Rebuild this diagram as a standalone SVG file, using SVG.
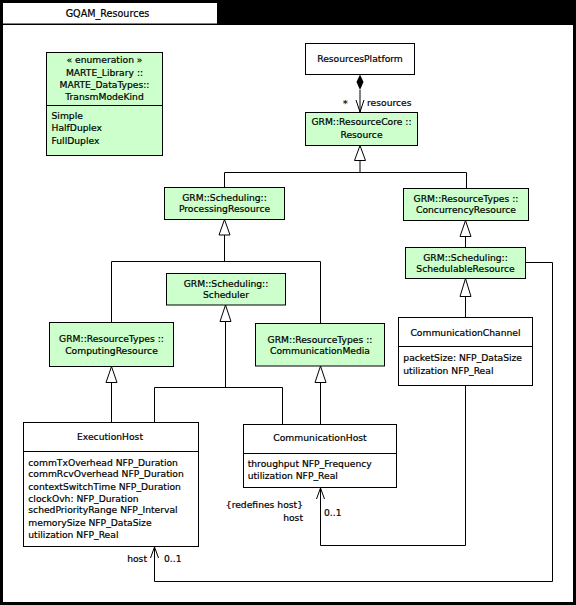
<svg xmlns="http://www.w3.org/2000/svg" width="576" height="605" viewBox="0 0 576 605">
<style>
text{font-family:"DejaVu Sans","Liberation Sans",sans-serif;font-size:9.2px;fill:#000;stroke:#000;stroke-width:0.2px}
.c{text-anchor:middle}
.e{text-anchor:end}
.g{fill:#ccffcc;stroke:#000;stroke-width:1}
.w{fill:#fff;stroke:#000;stroke-width:1}
.l{fill:none;stroke:#000;stroke-width:1}
.t{fill:#fff;stroke:#000;stroke-width:1}
</style>
<rect x="0" y="0" width="576" height="605" fill="#000"/>
<rect x="3" y="3" width="214" height="20.5" fill="#fff"/>
<rect x="3" y="25" width="570" height="577" fill="#fff"/>
<text class="c" x="107.5" y="16.5" style="font-size:9.6px">GQAM_Resources</text>

<g id="connectors">
<polygon points="360,74.5 363.5,82 360,90 356.5,82" fill="#000"/>
<line class="l" x1="360" y1="90" x2="360" y2="112.5"/>
<polyline class="l" points="356,100 360,112 364,100"/>
<text x="343" y="107">*</text>
<text x="367" y="106.3">resources</text>

<polygon class="t" points="360,145.5 354.5,160.5 365.5,160.5"/>
<polyline class="l" points="360,160.5 360,172.5"/>
<polyline class="l" points="224.5,187.5 224.5,172.5 466.5,172.5 466.5,188.5"/>

<polygon class="t" points="224.5,219.5 219,235 230,235"/>
<polyline class="l" points="224.5,235 224.5,261.5"/>
<polyline class="l" points="111.5,322.5 111.5,261.5 320.5,261.5 320.5,323.5"/>

<polygon class="t" points="225.5,305 220,321.5 231,321.5"/>
<polyline class="l" points="225.5,321.5 225.5,387.5"/>
<polyline class="l" points="154.5,422.5 154.5,387.5 282.5,387.5 282.5,424.5"/>

<polygon class="t" points="111.5,366.5 106,382.5 117,382.5"/>
<polyline class="l" points="111.5,382.5 111.5,422.5"/>

<polygon class="t" points="320.5,366 315,382.5 326,382.5"/>
<polyline class="l" points="320.5,382.5 320.5,424.5"/>

<polygon class="t" points="465.5,220.5 460,236.5 471,236.5"/>
<polyline class="l" points="465.5,236.5 465.5,247.5"/>

<polygon class="t" points="465.5,278.5 460,296.5 471,296.5"/>
<polyline class="l" points="465.5,296.5 465.5,317.5"/>

<polyline class="l" points="525.5,262.5 552.5,262.5 552.5,581.5 154.5,581.5 154.5,547"/>
<polyline class="l" points="150.5,558 154.5,547 158.5,558"/>
<text class="e" x="147" y="562.3">host</text>
<text x="164" y="562.3">0..1</text>

<polyline class="l" points="465.5,385.5 465.5,545.5 320.5,545.5 320.5,488"/>
<polyline class="l" points="316.5,499 320.5,488 324.5,499"/>
<text class="e" x="303" y="508.3">{redefines host}</text>
<text class="e" x="303" y="521">host</text>
<text x="324" y="515.6">0..1</text>
</g>

<g id="TransmModeKind">
<rect class="g" x="46.5" y="52.5" width="116" height="103"/>
<line class="l" x1="46.5" y1="105.5" x2="162.5" y2="105.5"/>
<text class="c" x="104.5" y="63.3">« enumeration »</text>
<text class="c" x="104.5" y="75.8">MARTE_Library ::</text>
<text class="c" x="104.5" y="88">MARTE_DataTypes::</text>
<text class="c" x="104.5" y="100">TransmModeKind</text>
<text x="51.5" y="119">Simple</text>
<text x="51.5" y="131">HalfDuplex</text>
<text x="51.5" y="144">FullDuplex</text>
</g>

<g id="ResourcesPlatform">
<rect class="w" x="305.5" y="43.5" width="109" height="31"/>
<text class="c" x="360" y="62.3">ResourcesPlatform</text>
</g>

<g id="Resource">
<rect class="g" x="305.5" y="112.5" width="112" height="33"/>
<text class="c" x="361.5" y="125">GRM::ResourceCore ::</text>
<text class="c" x="361.5" y="138.3">Resource</text>
</g>

<g id="ProcessingResource">
<rect class="g" x="164.5" y="187.5" width="120" height="32"/>
<text class="c" x="224.5" y="200.6">GRM::Scheduling::</text>
<text class="c" x="224.5" y="212.3">ProcessingResource</text>
</g>

<g id="ConcurrencyResource">
<rect class="g" x="403.5" y="188.5" width="125" height="32"/>
<text class="c" x="466" y="201.6">GRM::ResourceTypes ::</text>
<text class="c" x="466" y="213.3">ConcurrencyResource</text>
</g>

<g id="SchedulableResource">
<rect class="g" x="405.5" y="247.5" width="120" height="31"/>
<text class="c" x="465.5" y="260.6">GRM::Scheduling::</text>
<text class="c" x="465.5" y="272">SchedulableResource</text>
</g>

<g id="Scheduler">
<rect class="g" x="166.5" y="273.5" width="119" height="31.5"/>
<text class="c" x="226" y="286.6">GRM::Scheduling::</text>
<text class="c" x="226" y="298.3">Scheduler</text>
</g>

<g id="ComputingResource">
<rect class="g" x="49.5" y="322.5" width="124" height="44"/>
<text class="c" x="111.5" y="341.6">GRM::ResourceTypes ::</text>
<text class="c" x="111.5" y="353.6">ComputingResource</text>
</g>

<g id="CommunicationMedia">
<rect class="g" x="255.5" y="323.5" width="129" height="42.5"/>
<text class="c" x="320" y="342.6">GRM::ResourceTypes ::</text>
<text class="c" x="320" y="354.3">CommunicationMedia</text>
</g>

<g id="CommunicationChannel">
<rect class="w" x="398.5" y="317.5" width="134" height="68"/>
<line class="l" x1="398.5" y1="346.5" x2="532.5" y2="346.5"/>
<text class="c" x="465.5" y="335.6">CommunicationChannel</text>
<text x="403.3" y="361.3">packetSize: NFP_DataSize</text>
<text x="403.3" y="373.6">utilization NFP_Real</text>
</g>

<g id="ExecutionHost">
<rect class="w" x="23.5" y="422.5" width="175" height="124"/>
<line class="l" x1="23.5" y1="451.5" x2="198.5" y2="451.5"/>
<text class="c" x="110" y="440">ExecutionHost</text>
<text x="28.3" y="465.6">commTxOverhead NFP_Duration</text>
<text x="28.3" y="477.2">commRcvOverhead NFP_Duration</text>
<text x="28.3" y="490">contextSwitchTime NFP_Duration</text>
<text x="28.3" y="501.6">clockOvh: NFP_Duration</text>
<text x="28.3" y="513.3">schedPriorityRange NFP_Interval</text>
<text x="28.3" y="526">memorySize NFP_DataSize</text>
<text x="28.3" y="538.3">utilization NFP_Real</text>
</g>

<g id="CommunicationHost">
<rect class="w" x="243.5" y="424.5" width="153" height="63"/>
<line class="l" x1="243.5" y1="453.5" x2="396.5" y2="453.5"/>
<text class="c" x="320" y="441">CommunicationHost</text>
<text x="247.7" y="467.3">throughput NFP_Frequency</text>
<text x="247.7" y="479">utilization NFP_Real</text>
</g>
</svg>
